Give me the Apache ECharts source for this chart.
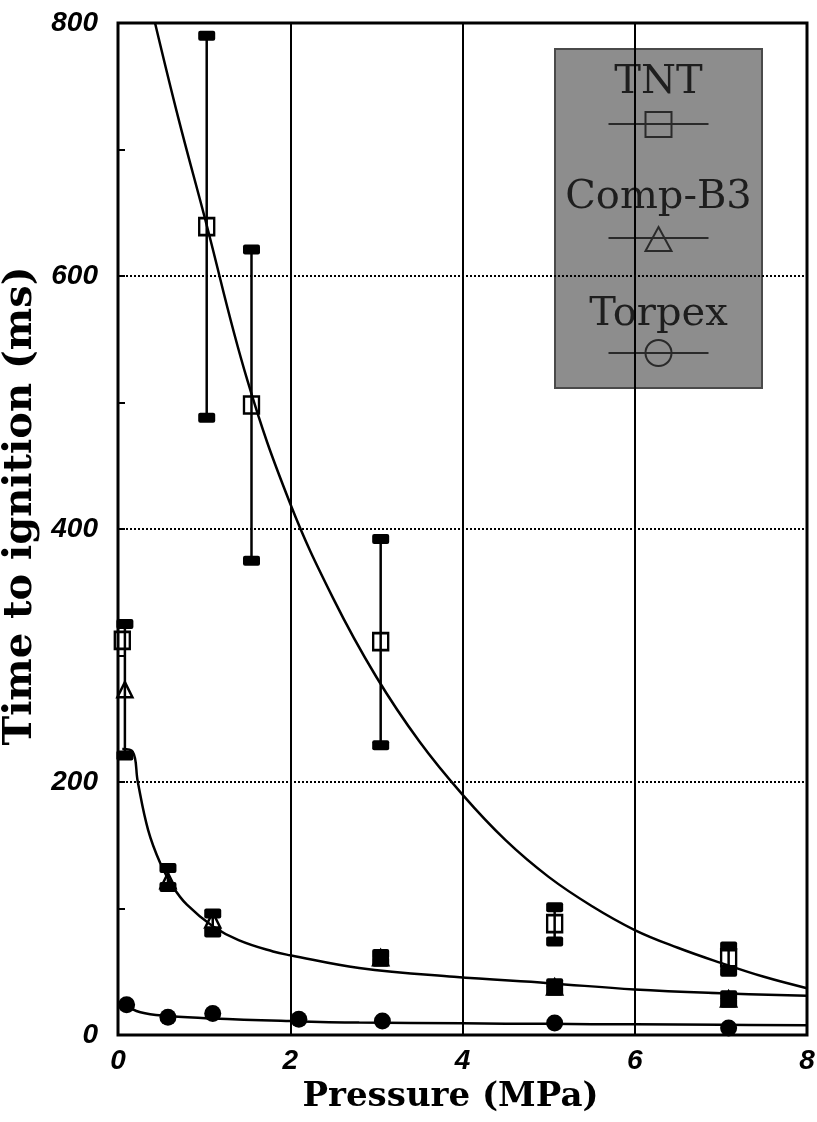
<!DOCTYPE html>
<html>
<head>
<meta charset="utf-8">
<script src="https://cdn.jsdelivr.net/npm/echarts@6/dist/echarts.min.js"></script>
<style>
  html, body { margin: 0; padding: 0; background: #fff; }
  #chart { width: 817px; height: 1122px; }
</style>
</head>
<body>
<div id="chart"></div>
<script>
// TNT: open squares, error bar ends (low/high), null = no bar
const tntX = [0.05, 1.03, 1.55, 3.05, 5.07, 7.09];
const tntY = [312, 639, 498, 311, 88, 61];
const tntLow = [null, 488, 375, 229, 74, 50];
const tntHigh = [null, 790, 621, 392, 101, 70];

// Comp-B3: open triangles with error bars
const compX = [0.08, 0.58, 1.1, 3.05, 5.07, 7.09];
const compY = [273, 122, 91, 61, 38, 28.5];
const compLow = [221, 117, 81, 58, 35, 25.5];
const compHigh = [325, 132, 96, 64, 41, 31.5];

// Torpex: filled circles
const torpexX = [0.1, 0.58, 1.1, 2.1, 3.07, 5.07, 7.09];
const torpexY = [24, 14, 17, 12.5, 11, 9.5, 5.5];

// fitted curves
const tntFit = [[0.43, 800], [0.7, 725], [1, 648], [1.5, 518], [2, 420], [2.5, 345], [3, 283],
  [3.5, 232], [4, 190], [4.5, 154], [5, 125], [5.5, 102], [6, 83], [6.5, 69], [7, 57], [7.5, 46], [8, 37]];
const compFit = [[0.05, 226], [0.17, 224], [0.23, 200], [0.35, 162], [0.49, 136], [0.64, 117],
  [0.8, 103], [1.1, 86], [1.4, 75], [1.8, 66], [2, 63], [2.8, 53], [3.9, 46], [5, 41], [6, 36], [7, 33], [8, 31]];
const torpexFit = [[0.05, 25], [0.26, 18], [0.6, 15], [1.1, 13], [2, 11], [2.8, 9.8], [4, 9.2], [5, 8.8],
  [6, 8.4], [7, 8.1], [8, 7.8]];

const chart = echarts.init(document.getElementById("chart"));

function zip(xs, ys) {
  return xs.map((x, i) => [x, ys[i]]);
}

function errorData(xs, lows, highs) {
  return xs
    .map((x, i) => [x, lows[i], highs[i]])
    .filter((d) => d[1] != null);
}

function renderErrorBar(params, api) {
  const x = api.value(0);
  const lo = api.coord([x, api.value(1)]);
  const hi = api.coord([x, api.value(2)]);
  const capW = 17, capH = 10;
  return {
    type: "group",
    children: [
      {
        type: "line",
        shape: { x1: lo[0], y1: lo[1], x2: hi[0], y2: hi[1] },
        style: { stroke: "#000", lineWidth: 2.5 },
      },
      {
        type: "rect",
        shape: { x: lo[0] - capW / 2, y: lo[1] - capH / 2, width: capW, height: capH, r: 2 },
        style: { fill: "#000" },
      },
      {
        type: "rect",
        shape: { x: hi[0] - capW / 2, y: hi[1] - capH / 2, width: capW, height: capH, r: 2 },
        style: { fill: "#000" },
      },
    ],
  };
}

const fitLine = (name, data) => ({
  name: name,
  type: "line",
  data: data,
  symbol: "none",
  smooth: 0.4,
  lineStyle: { color: "#000", width: 2.5 },
  z: 3,
  silent: true,
});

// legend box (drawn by hand: name above, marker on a line below)
const legendX = 555, legendY = 49, legendW = 207, legendH = 339;
const cx = legendX + legendW / 2;
function legendEntry(label, textY, lineY, symbol) {
  return [
    {
      type: "text",
      style: {
        text: label, x: cx, y: textY, align: "center", verticalAlign: "middle",
        font: "40px 'DejaVu Serif'", fill: "#1e1e1e",
      },
    },
    {
      type: "line",
      shape: { x1: cx - 50, y1: lineY, x2: cx + 50, y2: lineY },
      style: { stroke: "#2a2a2a", lineWidth: 2 },
    },
    symbol,
  ];
}

const option = {
  backgroundColor: "#fff",
  animation: false,
  grid: {
    left: 118,
    right: 10,
    top: 23,
    bottom: 87,
    show: true,
    borderColor: "#000",
    borderWidth: 3,
    outerBoundsMode: "none",
  },
  xAxis: {
    type: "value",
    min: 0,
    max: 8,
    interval: 2,
    name: "Pressure (MPa)",
    nameLocation: "middle",
    nameGap: 36,
    nameTextStyle: {
      fontFamily: "DejaVu Serif",
      fontWeight: "bold",
      fontSize: 34,
      color: "#000",
      padding: [0, 24, 0, 0],
    },
    axisLine: { show: false },
    axisTick: { show: false },
    axisLabel: {
      color: "#000",
      fontFamily: "Liberation Sans",
      fontWeight: "bold",
      fontStyle: "italic",
      fontSize: 28,
      margin: 12,
    },
    splitLine: { show: true, lineStyle: { color: "#000", width: 2, type: "solid" } },
  },
  yAxis: {
    type: "value",
    min: 0,
    max: 800,
    interval: 200,
    name: "Time to ignition (ms)",
    nameLocation: "middle",
    nameGap: 76,
    nameTextStyle: {
      fontFamily: "DejaVu Serif",
      fontWeight: "bold",
      fontSize: 40,
      color: "#000",
      padding: [0, 0, 0, 46],
    },
    axisLine: { show: false },
    axisTick: { show: true, inside: true, length: 7, lineStyle: { color: "#000", width: 2 } },
    minorTick: { show: true, splitNumber: 2, length: 7, lineStyle: { color: "#000", width: 2 } },
    axisLabel: {
      color: "#000",
      fontFamily: "Liberation Sans",
      fontWeight: "bold",
      fontStyle: "italic",
      fontSize: 28,
      margin: 20,
    },
    splitLine: { show: true, lineStyle: { color: "#000", width: 2, type: [2, 2] } },
  },
  series: [
    fitLine("TNT fit", tntFit),
    fitLine("Comp-B3 fit", compFit),
    fitLine("Torpex fit", torpexFit),
    {
      name: "TNT error",
      type: "custom",
      renderItem: renderErrorBar,
      data: errorData(tntX, tntLow, tntHigh),
      z: 5,
      silent: true,
    },
    {
      name: "Comp-B3 error",
      type: "custom",
      renderItem: renderErrorBar,
      data: errorData(compX, compLow, compHigh),
      z: 5,
      silent: true,
    },
    {
      name: "TNT",
      type: "scatter",
      data: zip(tntX, tntY),
      symbol: "rect",
      symbolSize: [15, 17],
      itemStyle: { color: "rgba(255,255,255,0)", borderColor: "#000", borderWidth: 2.5, opacity: 1 },
      z: 6,
    },
    {
      name: "Comp-B3",
      type: "scatter",
      data: zip(compX, compY),
      symbol: "triangle",
      symbolSize: [15, 15],
      itemStyle: { color: "rgba(255,255,255,0)", borderColor: "#000", borderWidth: 2.5, opacity: 1 },
      z: 6,
    },
    {
      name: "Torpex",
      type: "scatter",
      data: zip(torpexX, torpexY),
      symbol: "circle",
      symbolSize: 17,
      itemStyle: { color: "#000", opacity: 1 },
      z: 6,
    },
  ],
  graphic: [
    {
      type: "group",
      z: 100,
      children: [
        {
          type: "rect",
          shape: { x: legendX, y: legendY, width: legendW, height: legendH },
          style: { fill: "#8d8d8d", stroke: "#4a4a4a", lineWidth: 2 },
        },
        ...legendEntry("TNT", 83, 124, {
          type: "rect",
          shape: { x: cx - 13, y: 112, width: 26, height: 25 },
          style: { fill: "none", stroke: "#2a2a2a", lineWidth: 2 },
        }),
        ...legendEntry("Comp-B3", 198, 238, {
          type: "polygon",
          shape: { points: [[cx, 227], [cx + 13, 251], [cx - 13, 251]] },
          style: { fill: "none", stroke: "#2a2a2a", lineWidth: 2 },
        }),
        ...legendEntry("Torpex", 315, 353, {
          type: "circle",
          shape: { cx: cx, cy: 353, r: 13 },
          style: { fill: "none", stroke: "#2a2a2a", lineWidth: 2 },
        }),
      ],
    },
  ],
};

chart.setOption(option);
</script>
</body>
</html>
